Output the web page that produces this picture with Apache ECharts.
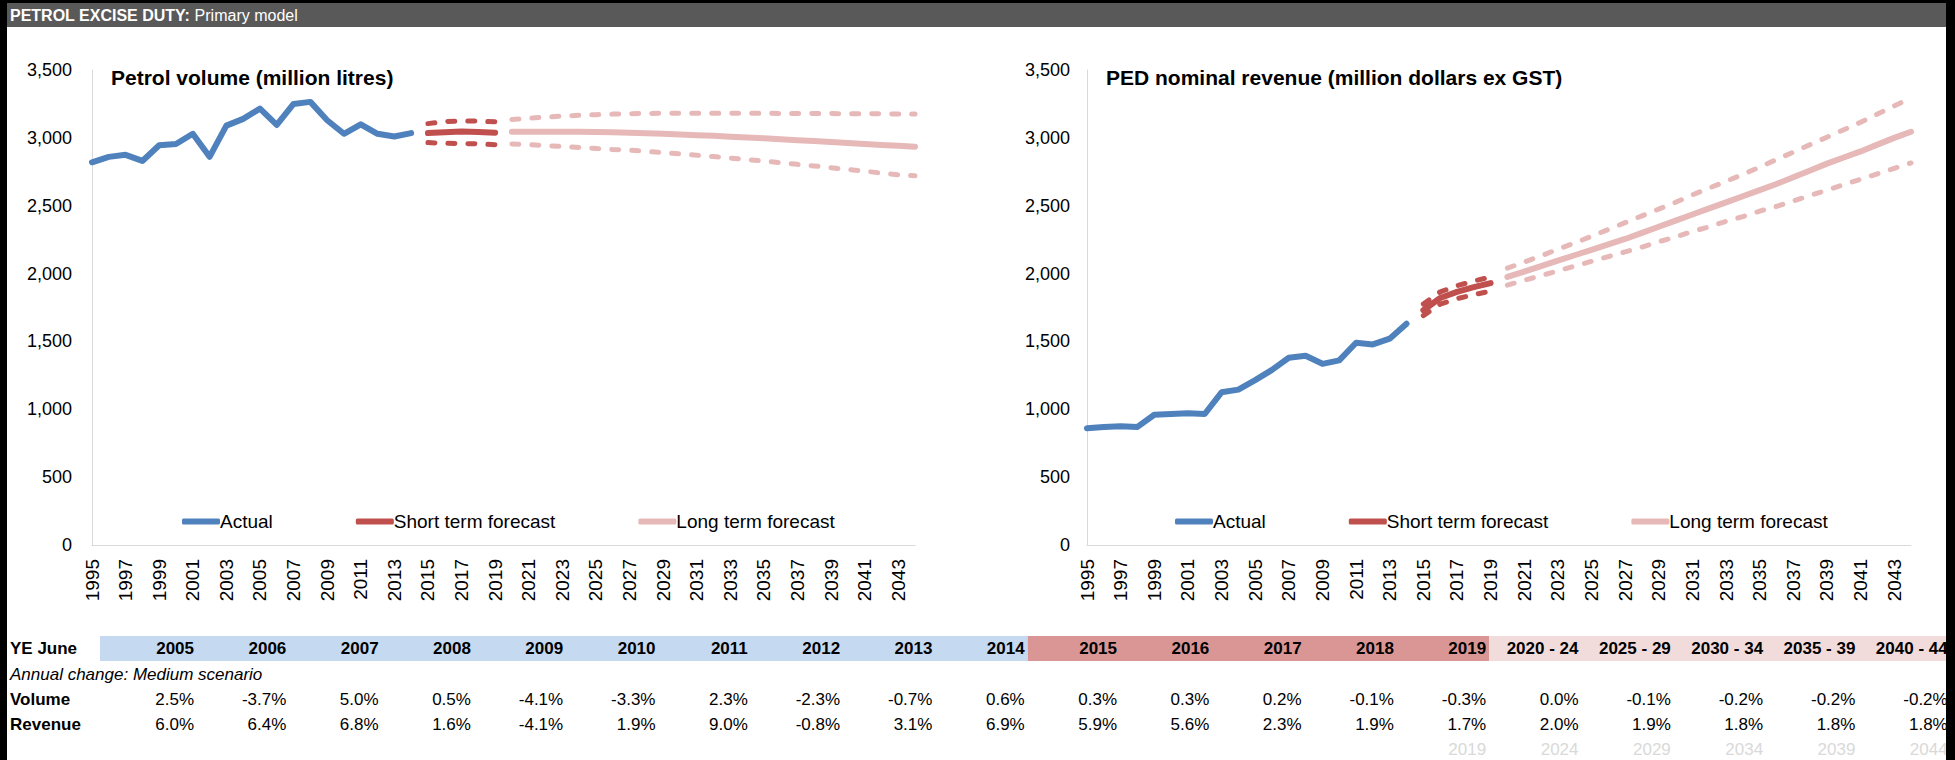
<!DOCTYPE html>
<html>
<head>
<meta charset="utf-8">
<script src="https://cdn.jsdelivr.net/npm/echarts@6/dist/echarts.min.js"></script>
<style>
  html, body { margin: 0; padding: 0; background: #fff; }
  #main { width: 1955px; height: 760px; }
</style>
</head>
<body>
<div id="main"></div>
<script>
// ---- data ----
const years = [];
for (let y = 1995; y <= 2044; y++) years.push(String(y));

// petrol volume, million litres
const volActual = [2820, 2860, 2875, 2830, 2945, 2955, 3030, 2860, 3090, 3140,
  3215, 3095, 3250, 3265, 3130, 3030, 3100, 3030, 3010, 3035];          // 1995-2014
const volShort = [3035, 3042, 3046, 3044, 3038];                         // 2015-2019
const volShortHi = [3105, 3120, 3125, 3123, 3118];
const volShortLo = [2965, 2960, 2958, 2956, 2950];
const volLong = [3045, 3045, 3045, 3045, 3045, 3043, 3041, 3038, 3034, 3030,
  3025, 3020, 3015, 3009, 3003, 2997, 2990, 2983, 2976, 2969,
  2962, 2955, 2948, 2941, 2935];                                          // 2020-2044
const volLongHi = [3135, 3145, 3152, 3160, 3166, 3171, 3175, 3178, 3180, 3181,
  3182, 3182, 3182, 3182, 3181, 3181, 3180, 3180, 3179, 3179,
  3178, 3178, 3177, 3176, 3176];
const volLongLo = [2955, 2950, 2943, 2936, 2929, 2922, 2914, 2910, 2900, 2891,
  2882, 2872, 2862, 2851, 2840, 2829, 2817, 2805, 2793, 2780,
  2767, 2754, 2741, 2728, 2720];

// PED nominal revenue, million dollars ex GST
const revActual = [860, 870, 875, 870, 960, 965, 970, 965, 1125, 1145,
  1215, 1290, 1380, 1395, 1335, 1360, 1490, 1478, 1520, 1630];
const revShort = [1730, 1820, 1865, 1900, 1930];
const revShortHi = [1775, 1865, 1910, 1945, 1975];
const revShortLo = [1690, 1775, 1815, 1845, 1870];
const revLong = [1975, 2015, 2055, 2095, 2135, 2175, 2215, 2255, 2300, 2345,
  2390, 2435, 2480, 2525, 2570, 2615, 2660, 2710, 2760, 2810,
  2855, 2900, 2950, 3000, 3045];
const revLongHi = [2040, 2085, 2130, 2180, 2225, 2275, 2325, 2375, 2425, 2475,
  2525, 2580, 2630, 2680, 2730, 2785, 2840, 2895, 2950, 3005,
  3060, 3115, 3175, 3235, 3295];
const revLongLo = [1915, 1950, 1985, 2020, 2055, 2090, 2125, 2160, 2195, 2235,
  2270, 2310, 2345, 2385, 2420, 2460, 2495, 2535, 2575, 2615,
  2655, 2695, 2735, 2775, 2815];

// table under the charts
const tableHeads = ['2005', '2006', '2007', '2008', '2009', '2010', '2011', '2012', '2013', '2014',
  '2015', '2016', '2017', '2018', '2019', '2020 - 24', '2025 - 29', '2030 - 34', '2035 - 39', '2040 - 44'];
const volumeChange = ['2.5%', '-3.7%', '5.0%', '0.5%', '-4.1%', '-3.3%', '2.3%', '-2.3%', '-0.7%', '0.6%',
  '0.3%', '0.3%', '0.2%', '-0.1%', '-0.3%', '0.0%', '-0.1%', '-0.2%', '-0.2%', '-0.2%'];
const revenueChange = ['6.0%', '6.4%', '6.8%', '1.6%', '-4.1%', '1.9%', '9.0%', '-0.8%', '3.1%', '6.9%',
  '5.9%', '5.6%', '2.3%', '1.9%', '1.7%', '2.0%', '1.9%', '1.8%', '1.8%', '1.8%'];
const periodEnds = ['2019', '2024', '2029', '2034', '2039', '2044'];   // under columns 2019 .. 2040-44

// ---- styling ----
const FONT = "'Liberation Sans', Arial, sans-serif";
const BLUE = '#4F81BD', RED = '#C0504D', PINK = '#E6B9B8';
const DASH = [7, 13];

const pairs = (start, vals) => vals.map((v, i) => [String(start + i), v]);

function lineSeries(g, name, start, vals, color, dashed) {
  return {
    name: name, type: 'line', xAxisIndex: g, yAxisIndex: g,
    data: pairs(start, vals), symbol: 'none', silent: true,
    itemStyle: { color: color },
    lineStyle: { color: color, width: dashed ? 5 : 6, type: dashed ? DASH : 'solid', cap: 'round', join: 'round' }
  };
}

function chartSeries(g, act, sh, shHi, shLo, lo, loHi, loLo) {
  return [
    lineSeries(g, 'Actual', 1995, act, BLUE),
    lineSeries(g, 'Short term forecast', 2015, sh, RED),
    lineSeries(g, 'Short term forecast', 2015, shHi, RED, true),
    lineSeries(g, 'Short term forecast', 2015, shLo, RED, true),
    lineSeries(g, 'Long term forecast', 2020, lo, PINK),
    lineSeries(g, 'Long term forecast', 2020, loHi, PINK, true),
    lineSeries(g, 'Long term forecast', 2020, loLo, PINK, true)
  ];
}

function xAxis(g) {
  return {
    type: 'category', gridIndex: g, data: years, boundaryGap: false,
    axisTick: { show: false },
    axisLine: { lineStyle: { color: '#D9D9D9', width: 1 } },
    axisLabel: { interval: 1, rotate: 90, margin: 14, fontSize: 19, color: '#000', fontFamily: FONT }
  };
}

function yAxis(g, margin) {
  return {
    type: 'value', gridIndex: g, min: 0, max: 3500, interval: 500,
    axisLine: { show: true, lineStyle: { color: '#D9D9D9', width: 1 } },
    axisTick: { show: false },
    splitLine: { show: false },
    axisLabel: { margin: margin, fontSize: 18, color: '#000', fontFamily: FONT,
      formatter: v => v.toLocaleString('en-US') }
  };
}

function legend(left) {
  return {
    left: left, top: 507, icon: 'roundRect', itemWidth: 38, itemHeight: 6, itemGap: 83,
    selectedMode: false,
    data: [
      { name: 'Actual', itemStyle: { color: BLUE } },
      { name: 'Short term forecast', itemStyle: { color: RED } },
      { name: 'Long term forecast', itemStyle: { color: PINK } }
    ],
    textStyle: { fontSize: 19, color: '#000', fontFamily: FONT, padding: [0, 0, 0, -5] }
  };
}

// table graphics
const colRight = i => 194 + 92.3 * i;
const ROW = { head: 648, note: 674, vol: 699, rev: 724, ends: 749 };
const graphics = [];
const txt = (x, y, text, opts) => graphics.push({
  type: 'text', x: x, y: y, z: 10,
  style: Object.assign({ text: text, fill: '#000', font: '17px ' + FONT, textAlign: 'right', textVerticalAlign: 'middle' }, opts || {})
});

// header bar
graphics.push({ type: 'rect', x: 0, y: 0, z: 5, shape: { width: 1955, height: 27 }, style: { fill: '#595959' } });
graphics.push({
  type: 'text', x: 10, y: 15, z: 6,
  style: {
    text: '{b|PETROL EXCISE DUTY:} Primary model', fill: '#fff', font: '16px ' + FONT,
    textVerticalAlign: 'middle',
    rich: { b: { fontWeight: 'bold', fontSize: 16, fontFamily: FONT, fill: '#fff' } }
  }
});

// coloured header bands
const bandEdge = i => colRight(i) + 3;
graphics.push({ type: 'rect', x: 100, y: 636, z: 1, shape: { width: bandEdge(9) - 100, height: 25 }, style: { fill: '#C5D9F1' } });
graphics.push({ type: 'rect', x: bandEdge(9), y: 636, z: 1, shape: { width: bandEdge(14) - bandEdge(9), height: 25 }, style: { fill: '#DA9694' } });
graphics.push({ type: 'rect', x: bandEdge(14), y: 636, z: 1, shape: { width: bandEdge(19) - bandEdge(14), height: 25 }, style: { fill: '#F2DCDB' } });

txt(10, ROW.head, 'YE June', { textAlign: 'left', font: 'bold 17px ' + FONT });
txt(10, ROW.note, 'Annual change: Medium scenario', { textAlign: 'left', font: 'italic 17px ' + FONT });
txt(10, ROW.vol, 'Volume', { textAlign: 'left', font: 'bold 17px ' + FONT });
txt(10, ROW.rev, 'Revenue', { textAlign: 'left', font: 'bold 17px ' + FONT });
tableHeads.forEach((h, i) => txt(colRight(i), ROW.head, h, { font: 'bold 17px ' + FONT }));
volumeChange.forEach((v, i) => txt(colRight(i), ROW.vol, v));
revenueChange.forEach((v, i) => txt(colRight(i), ROW.rev, v));
periodEnds.forEach((v, i) => txt(colRight(14 + i), ROW.ends, v, { fill: '#D9D9D9' }));

// black frame
graphics.push({ type: 'rect', x: 0, y: 0, z: 20, shape: { width: 1955, height: 3 }, style: { fill: '#000' } });
graphics.push({ type: 'rect', x: 0, y: 0, z: 20, shape: { width: 7, height: 760 }, style: { fill: '#000' } });
graphics.push({ type: 'rect', x: 1946, y: 0, z: 20, shape: { width: 9, height: 760 }, style: { fill: '#000' } });

const chart = echarts.init(document.getElementById('main'), null, { renderer: 'svg' });
chart.setOption({
  backgroundColor: '#fff',
  animation: false,
  textStyle: { fontFamily: FONT },
  title: [
    { text: 'Petrol volume (million litres)', left: 106, top: 62,
      textStyle: { fontSize: 21, fontWeight: 'bold', color: '#000', fontFamily: FONT } },
    { text: 'PED nominal revenue (million dollars ex GST)', left: 1101, top: 62,
      textStyle: { fontSize: 21, fontWeight: 'bold', color: '#000', fontFamily: FONT } }
  ],
  legend: [legend(177), legend(1170)],
  grid: [
    { left: 92, right: 1040, top: 70, bottom: 215 },
    { left: 1087, right: 44, top: 70, bottom: 215 }
  ],
  xAxis: [xAxis(0), xAxis(1)],
  yAxis: [yAxis(0, 20), yAxis(1, 17)],
  series: [].concat(
    chartSeries(0, volActual, volShort, volShortHi, volShortLo, volLong, volLongHi, volLongLo),
    chartSeries(1, revActual, revShort, revShortHi, revShortLo, revLong, revLongHi, revLongLo)
  ),
  graphic: graphics
});
</script>
</body>
</html>
